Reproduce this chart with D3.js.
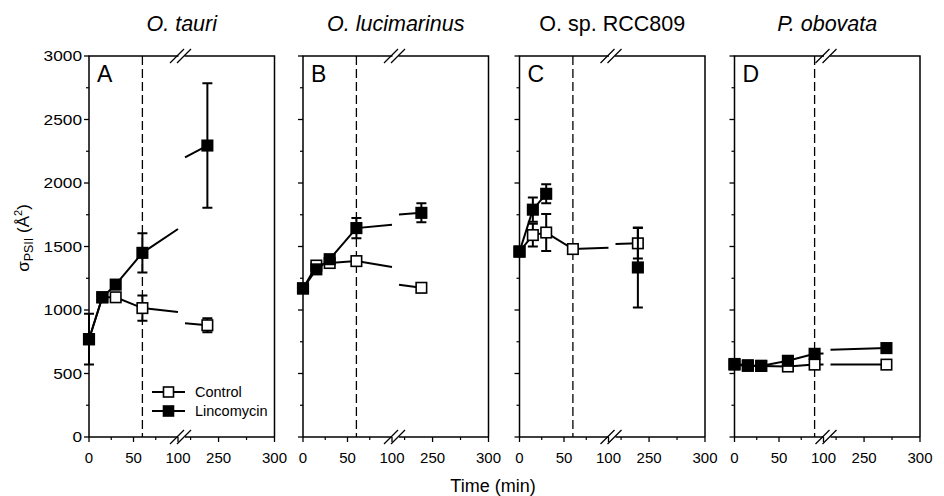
<!DOCTYPE html>
<html>
<head>
<meta charset="utf-8">
<script src="https://cdn.jsdelivr.net/npm/d3@7"></script>
<style>
  body { margin: 0; background: #fff; }
  svg { font-family: "Liberation Sans", Arial, sans-serif; }
</style>
</head>
<body>
<div id="chart"></div>
<script>
// panel titles / letters
const titles = ["O. tauri", "O. lucimarinus", "O. sp. RCC809", "P. obovata"];
const italic = [true, true, false, true];
const letters = ["A", "B", "C", "D"];

// sampling times (min)
const timesABC = [0, 15, 30, 60, 240];
const timesD = [0, 15, 30, 60, 90, 270];

// sigma PSII values (A^2) and error bars
const ctrlA = [770, 1100, 1100, 1015, 880];
const ctrlAErr = [0, 0, 0, 100, 55];
const lincA = [770, 1100, 1200, 1450, 2295];
const lincAErr = [200, 0, 0, 155, 490];

const ctrlB = [1170, 1350, 1370, 1385, 1175];
const ctrlBErr = [0, 25, 25, 35, 35];
const lincB = [1170, 1320, 1400, 1645, 1765];
const lincBErr = [0, 0, 0, 80, 75];

const ctrlC = [1460, 1590, 1610, 1480, 1525];
const ctrlCErr = [0, 90, 145, 20, 120];
const lincC = [1460, 1790, 1915, null, 1335];
const lincCErr = [0, 95, 75, 0, 315];

const ctrlD = [570, 560, 560, 555, 570, 570];
const ctrlDErr = [0, 0, 0, 0, 0, 0];
const lincD = [575, 565, 560, 600, 655, 700];
const lincDErr = [0, 0, 0, 0, 0, 0];

const treatLine = [60, 60, 60, 90]; // dashed line position

const yTicks = [0, 500, 1000, 1500, 2000, 2500, 3000];
const yMinor = [250, 750, 1250, 1750, 2250, 2750];
const xTicks1 = [0, 50, 100];
const xMinor1 = [25, 75];
const xTicks2 = [250, 300];
const xMinor2 = [225, 275];

const panels = [
  { times: timesABC, ctrl: ctrlA, ctrlErr: ctrlAErr, linc: lincA, lincErr: lincAErr },
  { times: timesABC, ctrl: ctrlB, ctrlErr: ctrlBErr, linc: lincB, lincErr: lincBErr },
  { times: timesABC, ctrl: ctrlC, ctrlErr: ctrlCErr, linc: lincC, lincErr: lincCErr },
  { times: timesD, ctrl: ctrlD, ctrlErr: ctrlDErr, linc: lincD, lincErr: lincDErr }
];

const W = 944, H = 496;
const plotTop = 56, plotBottom = 437;
const pw = 185.5;
const panelX = [89, 303, 519.5, 734.5];

const svg = d3.select("#chart").append("svg")
  .attr("width", W).attr("height", H);

const y = d3.scaleLinear().domain([0, 3000]).range([plotBottom, plotTop]);

// broken x axis: 0-100 | 220-300
const seg1 = d3.scaleLinear().domain([0, 100]).range([0, 89]);
const seg2 = d3.scaleLinear().domain([220, 300]).range([96, pw]);
const xs = t => t <= 100 ? seg1(t) : seg2(t);

function linePieces(times, vals) {
  // split into drawn segments, gap at the axis break
  const pieces = [];
  let cur = [];
  for (let i = 0; i < times.length; i++) {
    if (vals[i] == null) { if (cur.length) pieces.push(cur); cur = []; continue; }
    if (cur.length) {
      const prev = cur[cur.length - 1];
      if (prev.t <= 100 && times[i] >= 220) {
        const f = t => prev.v + (vals[i] - prev.v) * (t - prev.t) / (times[i] - prev.t);
        cur.push({ t: 100, v: f(100) });
        pieces.push(cur);
        cur = [{ t: 220, v: f(220) }];
      }
    }
    cur.push({ t: times[i], v: vals[i] });
  }
  if (cur.length) pieces.push(cur);
  return pieces;
}

const line = d3.line().x(d => xs(d.t)).y(d => y(d.v));
const ms = 10.5;

panels.forEach((p, i) => {
  const g = svg.append("g").attr("transform", `translate(${panelX[i]},0)`);

  // frame: left, top, right
  g.append("path")
    .attr("d", `M0,${plotBottom}V${plotTop}H${pw}V${plotBottom}`)
    .attr("fill", "none").attr("stroke", "#000").attr("stroke-width", 1.5);

  // bottom axis in two pieces
  g.append("line").attr("x1", 0).attr("x2", seg1(100)).attr("y1", plotBottom).attr("y2", plotBottom)
    .attr("stroke", "#000").attr("stroke-width", 1.5);
  g.append("line").attr("x1", seg2(220)).attr("x2", pw).attr("y1", plotBottom).attr("y2", plotBottom)
    .attr("stroke", "#000").attr("stroke-width", 1.5);
  // top gap
  g.append("rect").attr("x", seg1(100) + 0.5).attr("y", plotTop - 2)
    .attr("width", seg2(220) - seg1(100) - 1).attr("height", 4).attr("fill", "#fff");

  // break marks
  [plotTop, plotBottom].forEach(yy => {
    [seg1(100) - 4, seg1(100) + 3].forEach(bx => {
      g.append("line")
        .attr("x1", bx - 4).attr("y1", yy + 7)
        .attr("x2", bx + 10).attr("y2", yy - 7)
        .attr("stroke", "#000").attr("stroke-width", 1.2);
    });
  });

  // y ticks
  g.selectAll(".ytick").data(yTicks).enter().append("line")
    .attr("x1", -5).attr("x2", 0).attr("y1", d => y(d)).attr("y2", d => y(d))
    .attr("stroke", "#000").attr("stroke-width", 1.3);
  g.selectAll(".yminor").data(yMinor).enter().append("line")
    .attr("x1", -3).attr("x2", 0).attr("y1", d => y(d)).attr("y2", d => y(d))
    .attr("stroke", "#000").attr("stroke-width", 1.2);
  if (i === 0) {
    g.selectAll(".ylab").data(yTicks).enter().append("text")
      .attr("x", -7).attr("y", d => y(d) + 5)
      .attr("text-anchor", "end").attr("font-size", 14)
      .attr("textLength", d => String(d).length * 9.6)
      .attr("lengthAdjust", "spacingAndGlyphs")
      .text(d => d);
  }

  // x ticks
  const major = xTicks1.concat(xTicks2);
  const minor = xMinor1.concat(xMinor2);
  g.selectAll(".xtick").data(major).enter().append("line")
    .attr("x1", d => xs(d)).attr("x2", d => xs(d)).attr("y1", plotBottom).attr("y2", plotBottom + 5)
    .attr("stroke", "#000").attr("stroke-width", 1.3);
  g.selectAll(".xminor").data(minor).enter().append("line")
    .attr("x1", d => xs(d)).attr("x2", d => xs(d)).attr("y1", plotBottom).attr("y2", plotBottom + 3)
    .attr("stroke", "#000").attr("stroke-width", 1.2);
  g.selectAll(".xlab").data(major).enter().append("text")
    .attr("x", d => xs(d)).attr("y", plotBottom + 26)
    .attr("text-anchor", "middle").attr("font-size", 15)
    .text(d => d);

  // dashed treatment line
  g.append("line")
    .attr("x1", xs(treatLine[i])).attr("x2", xs(treatLine[i]))
    .attr("y1", plotTop).attr("y2", plotBottom)
    .attr("stroke", "#000").attr("stroke-width", 1.3)
    .attr("stroke-dasharray", "9,4");

  // title and letter
  g.append("text").attr("x", pw / 2).attr("y", 31)
    .attr("text-anchor", "middle").attr("font-size", 21.5)
    .attr("font-style", italic[i] ? "italic" : "normal")
    .text(titles[i]);
  g.append("text").attr("x", 8).attr("y", 82)
    .attr("font-size", 23).text(letters[i]);

  // series: control drawn first, lincomycin on top
  const series = [
    { vals: p.ctrl, err: p.ctrlErr, fill: "#fff" },
    { vals: p.linc, err: p.lincErr, fill: "#000" }
  ];
  series.forEach(s => {
    linePieces(p.times, s.vals).forEach(pc => {
      g.append("path").attr("d", line(pc))
        .attr("fill", "none").attr("stroke", "#000").attr("stroke-width", 2);
    });
    const pts = p.times.map((t, k) => ({ t, v: s.vals[k], e: s.err[k] }))
      .filter(d => d.v != null);
    pts.filter(d => d.e > 0).forEach(d => {
      const cx = xs(d.t);
      g.append("path")
        .attr("d", `M${cx},${y(d.v + d.e)}V${y(d.v - d.e)}M${cx - 5},${y(d.v + d.e)}H${cx + 5}M${cx - 5},${y(d.v - d.e)}H${cx + 5}`)
        .attr("stroke", "#000").attr("stroke-width", 2).attr("fill", "none");
    });
    g.selectAll(null).data(pts).enter().append("rect")
      .attr("x", d => xs(d.t) - ms / 2).attr("y", d => y(d.v) - ms / 2)
      .attr("width", ms).attr("height", ms)
      .attr("fill", s.fill).attr("stroke", "#000").attr("stroke-width", 1.6);
  });

  // legend in panel A
  if (i === 0) {
    const leg = [{ name: "Control", fill: "#fff" }, { name: "Lincomycin", fill: "#000" }];
    leg.forEach((l, k) => {
      const ly = 392 + k * 19;
      g.append("line").attr("x1", 63).attr("x2", 96).attr("y1", ly).attr("y2", ly)
        .attr("stroke", "#000").attr("stroke-width", 2);
      g.append("rect").attr("x", 79.5 - 5).attr("y", ly - 5).attr("width", 10).attr("height", 10)
        .attr("fill", l.fill).attr("stroke", "#000").attr("stroke-width", 1.6);
      g.append("text").attr("x", 106).attr("y", ly + 5)
        .attr("font-size", 14.5).text(l.name);
    });
  }
});

// axis titles
svg.append("text")
  .attr("x", 493).attr("y", 492)
  .attr("text-anchor", "middle").attr("font-size", 18)
  .text("Time (min)");

const yl = svg.append("text")
  .attr("transform", "translate(29,238) rotate(-90)")
  .attr("text-anchor", "middle").attr("font-size", 17);
yl.append("tspan").text("σ");
yl.append("tspan").attr("font-size", 12.5).attr("dy", 4).text("PSII");
yl.append("tspan").attr("dy", -4).text(" (Å");
yl.append("tspan").attr("font-size", 11).attr("dy", -7).text("2");
yl.append("tspan").attr("dy", 7).text(")");
</script>
</body>
</html>
